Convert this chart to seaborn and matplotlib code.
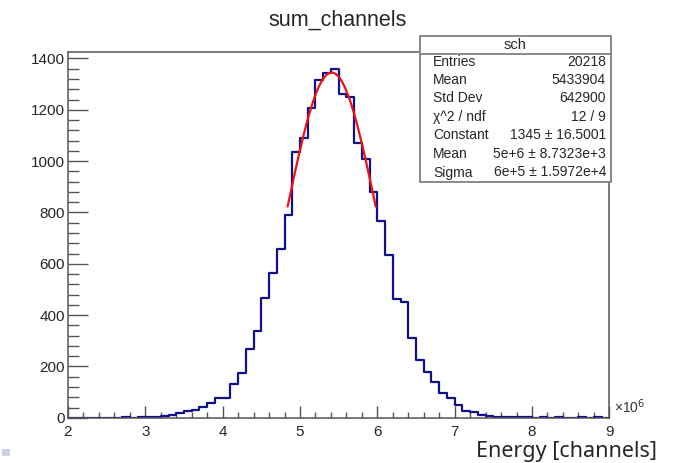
import numpy as np
import pandas as pd
import matplotlib
matplotlib.use("Agg")
import matplotlib.pyplot as plt
from matplotlib.patches import Rectangle
from matplotlib.lines import Line2D
from matplotlib.ticker import MultipleLocator
import seaborn as sns

# histogram: 70 bins of 0.1e6 from 2e6 to 9e6 (x in units of 1e6 channels)
bin_centers = np.round(np.arange(2.05, 9.0, 0.1), 2)
counts = [
    0, 0, 0, 0, 0, 0, 0,
    3, 1, 3, 4, 5, 7, 9,
    20, 26, 31, 44, 56, 77, 78, 132, 176, 267,
    340, 466, 563, 658, 790, 1034, 1091, 1205, 1315, 1345, 1358,
    1260, 1250, 1071, 1008, 881, 767, 634, 462, 450, 312,
    226, 180, 139, 96, 77, 51, 28, 21, 12, 8, 3,
    4, 2, 3, 2, 1, 2, 1, 2, 1, 1, 2, 1, 2, 1,
]

# gaussian fit
fit_const = 1345
fit_mean = 5.41
fit_sigma = 0.575
fit_range = (4.84, 5.98)

stat_labels = ["Entries", "Mean", "Std Dev", "\u03c7^2 / ndf", "Constant", "Mean", "Sigma"]
stat_values = ["20218", "5433904", "642900", "12 / 9", "1345 \u00b1 16.5001",
               "5e+6 \u00b1 8.7323e+3", "6e+5 \u00b1 1.5972e+4"]

df = pd.DataFrame({"energy": bin_centers, "n": counts})

W, H = 673, 463
fx = lambda px: px / W
fy = lambda py: 1 - py / H

sns.set_style("ticks")
plt.rcParams["font.family"] = ["Liberation Sans", "DejaVu Sans"]

fig = plt.figure(figsize=(W / 100, H / 100), dpi=100)
ax = fig.add_axes([fx(68), fy(417.8), fx(609.3) - fx(68), fy(51.5) - fy(417.8)])

sns.histplot(data=df, x="energy", weights="n", binwidth=0.1, binrange=(2, 9),
             element="step", fill=False, color="#10108c", linewidth=1.6, ax=ax)

xf = np.linspace(fit_range[0], fit_range[1], 200)
yf = fit_const * np.exp(-0.5 * ((xf - fit_mean) / fit_sigma) ** 2)
sns.lineplot(x=xf, y=yf, color="#f01010", linewidth=1.6, ax=ax)

ax.set_xlim(2, 9)
ax.set_ylim(0, 1427)
ax.set_xlabel("")
ax.set_ylabel("")
ax.xaxis.set_major_locator(MultipleLocator(1))
ax.xaxis.set_minor_locator(MultipleLocator(0.2))
ax.yaxis.set_major_locator(MultipleLocator(200))
ax.yaxis.set_minor_locator(MultipleLocator(40))
ax.tick_params(bottom=True, left=True, top=False, right=False, which="both")
ax.tick_params(axis="x", which="major", direction="in", length=9, width=1, color="#555555",
               labelsize=11, pad=5)
ax.tick_params(axis="x", which="minor", direction="in", length=4.5, width=1, color="#555555")
ax.tick_params(axis="y", which="major", direction="in", length=14.5, width=1, color="#555555",
               labelsize=11, pad=2)
ax.tick_params(axis="y", which="minor", direction="in", length=8, width=1, color="#555555")
for s in ax.spines.values():
    s.set_color("#555555")
    s.set_linewidth(1.1)

fig.text(fx(338), fy(20), "sum_channels", ha="center", va="center", fontsize=15.5)
fig.text(fx(614), fy(407), "\u00d710$^6$", ha="left", va="center", fontsize=10,
         color="#333333")
fig.text(fx(566), fy(451), "Energy [channels]", ha="center", va="center", fontsize=15.5,
         family=["Noto Sans", "DejaVu Sans"])

# stats box
box_l, box_r, box_t, box_b = 419.5, 611, 36, 182
fig.add_artist(Rectangle((fx(box_l), fy(box_b)), fx(box_r) - fx(box_l), fy(box_t) - fy(box_b),
                         transform=fig.transFigure, facecolor="white", edgecolor="#808080",
                         linewidth=1.3, zorder=10))
fig.add_artist(Line2D([fx(box_l), fx(box_r)], [fy(53.5), fy(53.5)], transform=fig.transFigure,
                      color="#808080", linewidth=1.3, zorder=11))
fig.text(fx(515), fy(45), "sch", ha="center", va="center", fontsize=10.5, zorder=12)
row_y = [62, 80, 98, 117, 135, 153.5, 172.5]
for lab, val, yy in zip(stat_labels, stat_values, row_y):
    fig.text(fx(433), fy(yy), lab, ha="left", va="center", fontsize=10, zorder=12)
    fig.text(fx(606), fy(yy), val, ha="right", va="center", fontsize=10, zorder=12)

# small marker at the bottom-left corner of the screenshot
fig.add_artist(Rectangle((fx(2), fy(456)), fx(8), 7 / H, transform=fig.transFigure,
                         facecolor="#c8d2e2", edgecolor="none"))

fig.savefig("out.png", dpi=100)
